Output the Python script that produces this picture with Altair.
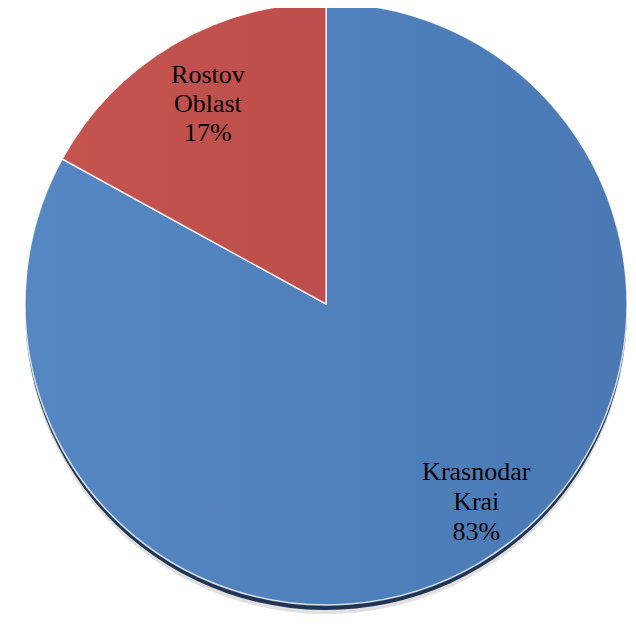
import altair as alt
import pandas as pd

regions = ["Krasnodar Krai", "Rostov Oblast"]
shares = [83, 17]
labels = ["Krasnodar\nKrai\n83%", "Rostov\nOblast\n17%"]
order_idx = [0, 1]
colors_left = ["#5588c3", "#c5544f"]
colors_right = ["#4a79b4", "#bd4e4b"]

FONT = "'Times New Roman', 'Liberation Serif', 'DejaVu Serif', serif"

df = pd.DataFrame({"region": regions, "share": shares, "label": labels, "idx": order_idx})

base = alt.Chart(df).encode(
    theta=alt.Theta("share:Q", stack=True),
    order=alt.Order("idx:Q"),
)

R = 301

shadow_soft = base.mark_arc(radius=R, yOffset=9, color="#bbbbbb", opacity=0.45)
shadow = base.mark_arc(radius=R, yOffset=5, color="#1f3553")


def grad(i):
    return alt.Gradient(
        gradient="linear", x1=0, y1=0, x2=1, y2=0,
        stops=[alt.GradientStop(offset=0, color=colors_left[i]),
               alt.GradientStop(offset=1, color=colors_right[i])],
    )


slices = []
for i, reg in enumerate(regions):
    slices.append(
        base.mark_arc(radius=R, color=grad(i), stroke="white", strokeWidth=1.5)
        .encode(opacity=alt.condition(alt.datum.region == reg, alt.value(1), alt.value(0)),
                strokeOpacity=alt.condition(alt.datum.region == reg, alt.value(0.8), alt.value(0)))
    )

text_k = base.mark_text(
    radius=248, dx=24, dy=-45, font=FONT, fontSize=26, lineBreak="\n",
    lineHeight=30, color="black", align="center", baseline="middle"
).encode(text="label:N", opacity=alt.condition(alt.datum.region == regions[0], alt.value(1), alt.value(0)))

text_r = base.mark_text(
    radius=232, dy=-29, font=FONT, fontSize=26, lineBreak="\n",
    lineHeight=29, color="black", align="center", baseline="middle"
).encode(text="label:N", opacity=alt.condition(alt.datum.region == regions[1], alt.value(1), alt.value(0)))

chart = alt.layer(shadow_soft, shadow, *slices, text_k, text_r).properties(
    width=600, height=592,
    padding={"left": 18, "right": 2, "top": 0, "bottom": 20},
    autosize=alt.AutoSizeParams(type="none"),
).configure_view(stroke=None)

chart.save("out.html", embed_options={"renderer": "svg", "actions": False})
